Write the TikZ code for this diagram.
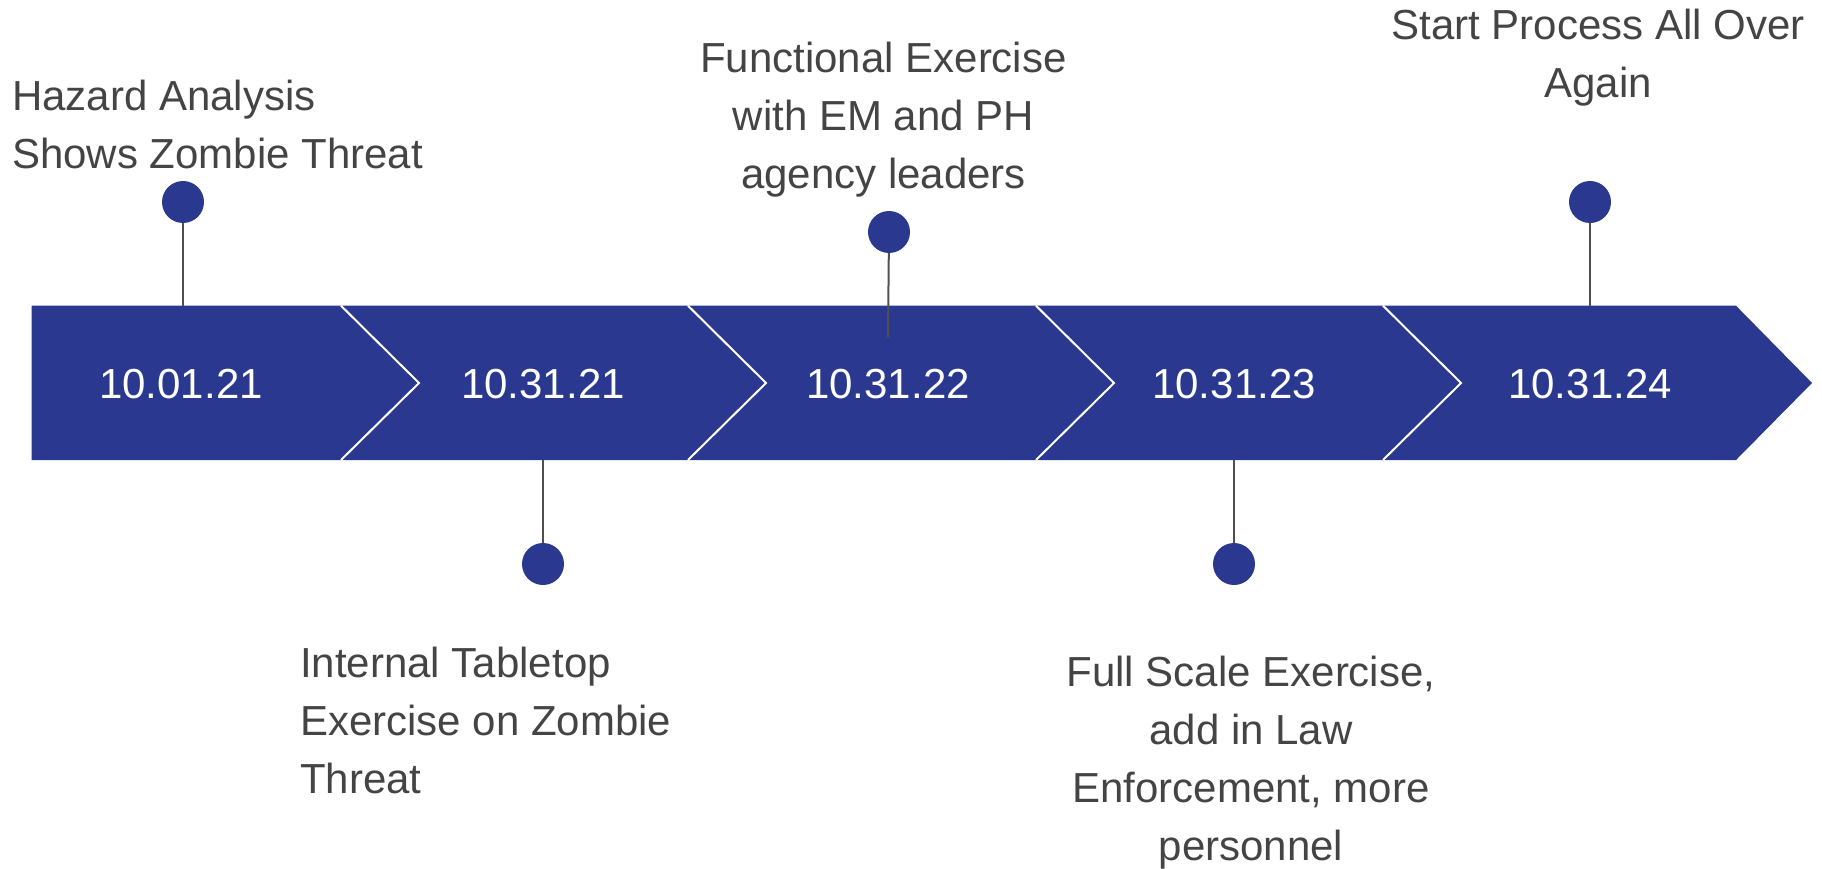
\documentclass[tikz,border=0pt]{standalone}
\usepackage{fontspec}
\setmainfont{Liberation Sans}
\definecolor{band}{RGB}{42,57,143}
\definecolor{txt}{RGB}{68,68,68}
\definecolor{stem}{RGB}{80,80,80}
\begin{document}
\begin{tikzpicture}[x=1pt,y=-1pt,
  lbl/.style={text=txt,font=\fontsize{42}{58}\selectfont,inner sep=0pt},
  datelbl/.style={text=white,font=\fontsize{42}{50}\selectfont,inner sep=0pt,anchor=base},
  dot/.style={circle,fill=band,minimum size=42pt,inner sep=0pt},
  stemline/.style={draw=stem,line width=2pt},
  divider/.style={draw=white,line width=2pt}]
\useasboundingbox (0,0) rectangle (1822,869);
% band
\fill[band] (31.7,305.7) -- (1736,305.7) -- (1812,383) -- (1736,460) -- (31.7,460) -- cycle;
\foreach \x in {341,688,1036,1383}{
  \draw[divider] (\x,305.7) -- (\x+78,383) -- (\x,460);
}
% date labels
\node[datelbl] (t1) at (181,398) {10.01.21};
\node[datelbl] (t2) at (543,398) {10.31.21};
\node[datelbl] (t3) at (888,398) {10.31.22};
\node[datelbl] (t4) at (1234,398) {10.31.23};
\node[datelbl] (t5) at (1590,398) {10.31.24};
% stem end points
\coordinate (b1) at (183,305.7);
\coordinate (b2) at (543,460);
\coordinate (b3) at (888,337);
\coordinate (b4) at (1234,460);
\coordinate (b5) at (1590,305.7);
% dots
\node[dot] (d1) at (183,202) {};
\node[dot] (d2) at (543,564) {};
\node[dot] (d3) at (889,232) {};
\node[dot] (d4) at (1234,564) {};
\node[dot] (d5) at (1590,202) {};
% stems
\draw[stemline] (d1) -- (b1);
\draw[stemline] (d2) -- (b2);
\draw[stemline] (d3) -- (b3);
\draw[stemline] (d4) -- (b4);
\draw[stemline] (d5) -- (b5);
% texts (anchor = baseline of last line)
\node[lbl,anchor=base west,align=left] (l1) at (12,169) {Hazard Analysis\\Shows Zombie Threat};
\node[lbl,anchor=base west,align=left] (l2) at (300,793) {Internal Tabletop\\Exercise on Zombie\\Threat};
\node[lbl,anchor=base,align=center] (l3) at (883.5,189) {Functional Exercise\\with EM and PH\\agency leaders};
\node[lbl,anchor=base,align=center] (l4) at (1251,860) {Full Scale Exercise,\\add in Law\\Enforcement, more\\personnel};
\node[lbl,anchor=base,align=center] (l5) at (1598,98) {Start Process All Over\\Again};
\end{tikzpicture}
\end{document}
